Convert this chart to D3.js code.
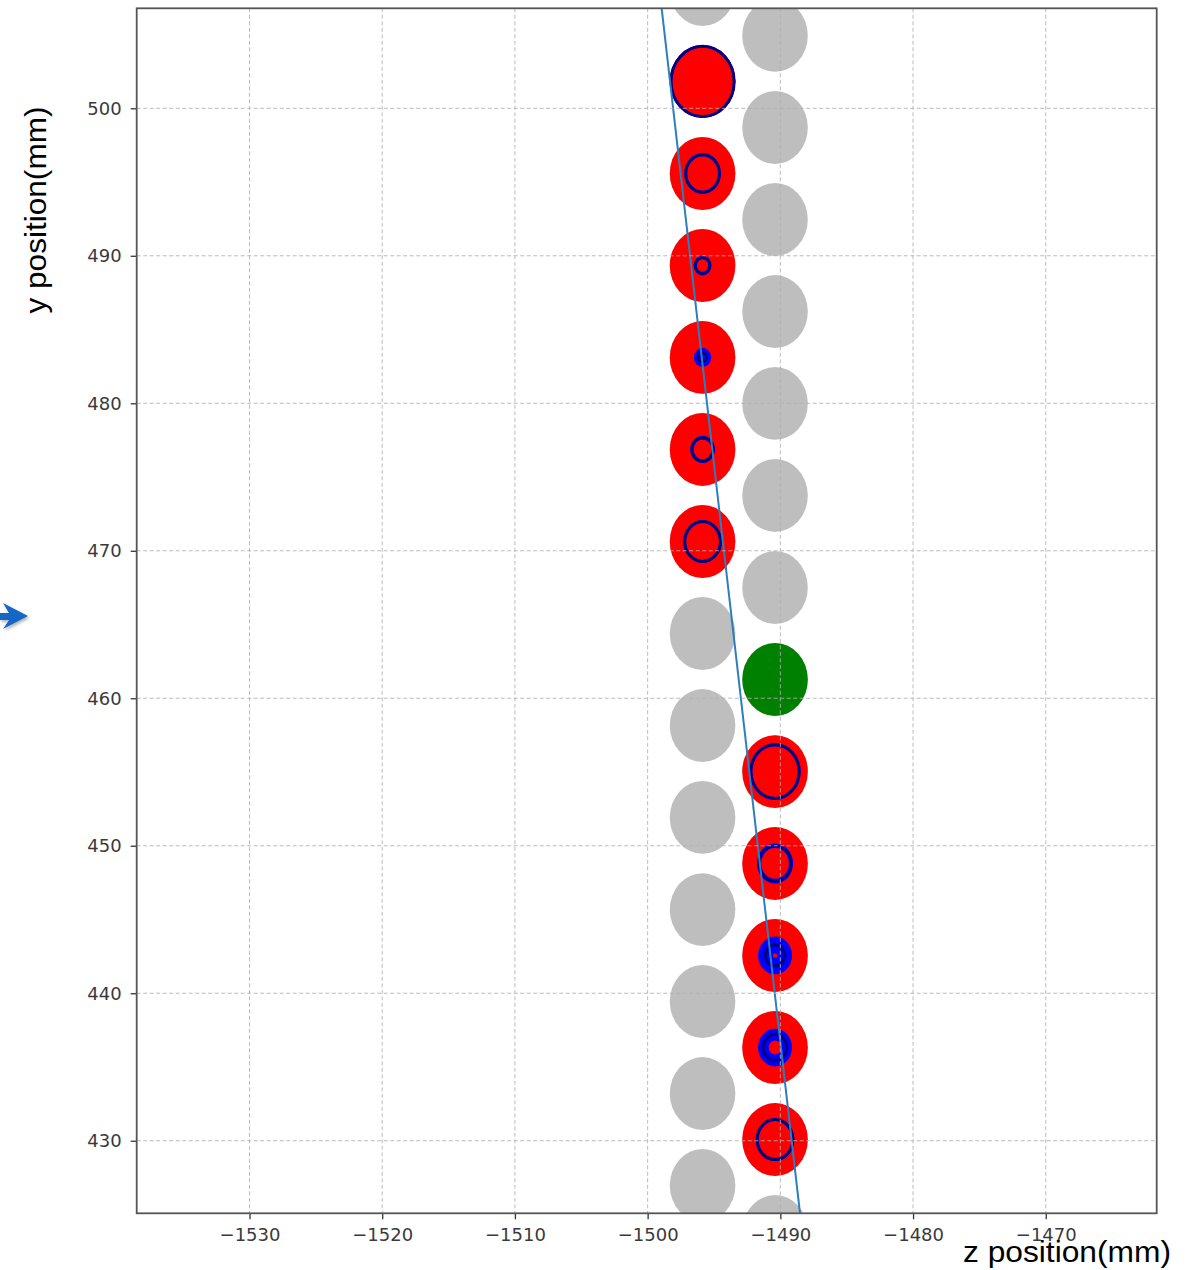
<!DOCTYPE html>
<html>
<head>
<meta charset="utf-8">
<script src="https://cdn.jsdelivr.net/npm/d3@7"></script>
<style>
  html, body { margin: 0; padding: 0; background: #ffffff; }
  svg { display: block; }
</style>
</head>
<body>
<div id="chart"></div>
<script>
// Straw tube hits along a reconstructed track (z vs y, mm)

// z position of the two straw columns
const columnZ = [-1495.86, -1490.40];
// y centres of the straws in each column
const leftColumnY = [508.05, 501.82, 495.58, 489.34, 483.11, 476.87, 470.63,
                     464.39, 458.15, 451.92, 445.67, 439.44, 433.20, 426.97];
const rightColumnY = [504.94, 498.70, 492.46, 486.22, 479.99, 473.75, 467.51,
                      461.27, 455.03, 448.80, 442.56, 436.32, 430.08, 423.85];
const strawRadius = 2.47;

// straws with a hit: column index, y centre, drift radius and its error
const hitColumn = [0, 0, 0, 0, 0, 0, 1, 1, 1, 1, 1];
const hitY = [501.82, 495.58, 489.34, 483.11, 476.87, 470.63,
              455.03, 448.80, 442.56, 436.32, 430.08];
const driftRadius = [2.38, 1.27, 0.55, 0.30, 0.80, 1.35, 1.82, 1.20, 0.72, 0.88, 1.35];
const driftError = [0.08, 0.10, 0.12, 0.35, 0.12, 0.10, 0.10, 0.16, 0.56, 0.40, 0.10];

// hit straw without a drift circle
const seedColumn = [1];
const seedY = [461.27];

// fitted track
const trackY = [512, 420];
const trackZ = [-1499.61, -1487.87];

// axes
const xTicks = [-1530, -1520, -1510, -1500, -1490, -1480, -1470];
const yTicks = [430, 440, 450, 460, 470, 480, 490, 500];
const xLabel = "z position(mm)";
const yLabel = "y position(mm)";

const W = 1187, H = 1270;
const plot = { left: 136.7, top: 8.3, right: 1156.7, bottom: 1213.3 };

const x = d3.scaleLinear().domain([-1538.5, -1461.64]).range([plot.left, plot.right]);
const y = d3.scaleLinear().domain([506.78, 425.08]).range([plot.top, plot.bottom]);

const svg = d3.select("#chart").append("svg")
  .attr("width", W).attr("height", H)
  .attr("viewBox", `0 0 ${W} ${H}`);

const defs = svg.append("defs");
defs.append("clipPath").attr("id", "plot-clip")
  .append("rect")
  .attr("x", plot.left).attr("y", plot.top)
  .attr("width", plot.right - plot.left).attr("height", plot.bottom - plot.top);

const shadow = defs.append("filter").attr("id", "arrow-shadow")
  .attr("x", "-50%").attr("y", "-50%").attr("width", "200%").attr("height", "200%");
shadow.append("feDropShadow")
  .attr("dx", 1.5).attr("dy", 2).attr("stdDeviation", 1.8)
  .attr("flood-color", "#000").attr("flood-opacity", 0.3);

// ellipse outline in pixel space for a circle of data radius r
function ellipsePath(z, yy, r) {
  const cx = x(z), cy = y(yy);
  const rx = Math.abs(x(z + r) - cx), ry = Math.abs(y(yy + r) - cy);
  return `M${cx - rx},${cy}A${rx},${ry} 0 1,0 ${cx + rx},${cy}A${rx},${ry} 0 1,0 ${cx - rx},${cy}Z`;
}

const area = svg.append("g").attr("clip-path", "url(#plot-clip)");

// all straws
const straws = [];
leftColumnY.forEach(v => straws.push({ z: columnZ[0], y: v }));
rightColumnY.forEach(v => straws.push({ z: columnZ[1], y: v }));

area.append("g").selectAll("ellipse").data(straws).join("ellipse")
  .attr("cx", d => x(d.z)).attr("cy", d => y(d.y))
  .attr("rx", d => Math.abs(x(d.z + strawRadius) - x(d.z)))
  .attr("ry", d => Math.abs(y(d.y + strawRadius) - y(d.y)))
  .attr("fill", "#bebebe");

// hit straws
const hits = hitY.map((v, i) => ({
  z: columnZ[hitColumn[i]], y: v, r: driftRadius[i], e: driftError[i]
}));
const seeds = seedY.map((v, i) => ({ z: columnZ[seedColumn[i]], y: v }));

area.append("g").selectAll("ellipse").data(hits).join("ellipse")
  .attr("cx", d => x(d.z)).attr("cy", d => y(d.y))
  .attr("rx", d => Math.abs(x(d.z + strawRadius) - x(d.z)))
  .attr("ry", d => Math.abs(y(d.y + strawRadius) - y(d.y)))
  .attr("fill", "#ff0000");

area.append("g").selectAll("ellipse").data(seeds).join("ellipse")
  .attr("cx", d => x(d.z)).attr("cy", d => y(d.y))
  .attr("rx", d => Math.abs(x(d.z + strawRadius) - x(d.z)))
  .attr("ry", d => Math.abs(y(d.y + strawRadius) - y(d.y)))
  .attr("fill", "#008000");

// drift radius uncertainty band
area.append("g").selectAll("path").data(hits).join("path")
  .attr("d", d => {
    let p = ellipsePath(d.z, d.y, d.r + d.e);
    if (d.r - d.e > 0) p += ellipsePath(d.z, d.y, d.r - d.e);
    return p;
  })
  .attr("fill", "#0000ff")
  .attr("fill-rule", "evenodd");

// drift circle
area.append("g").selectAll("path").data(hits).join("path")
  .attr("d", d => ellipsePath(d.z, d.y, d.r))
  .attr("fill", "none")
  .attr("stroke", "#000080")
  .attr("stroke-width", 3);

// grid
const grid = svg.append("g").attr("stroke", "#b0b0b0").attr("stroke-width", 1)
  .attr("stroke-dasharray", "4,2.5").attr("opacity", 0.85);
grid.selectAll("line.gx").data(xTicks).join("line").attr("class", "gx")
  .attr("x1", d => x(d)).attr("x2", d => x(d))
  .attr("y1", plot.top).attr("y2", plot.bottom);
grid.selectAll("line.gy").data(yTicks).join("line").attr("class", "gy")
  .attr("y1", d => y(d)).attr("y2", d => y(d))
  .attr("x1", plot.left).attr("x2", plot.right);

// track
area.append("path")
  .datum(trackY.map((v, i) => [trackZ[i], v]))
  .attr("d", d3.line().x(d => x(d[0])).y(d => y(d[1])))
  .attr("fill", "none")
  .attr("stroke", "#2b7fc0")
  .attr("stroke-width", 2);

// axes
const fmt = d3.format("d");
const xAxis = svg.append("g")
  .attr("transform", `translate(0,${plot.bottom})`)
  .call(d3.axisBottom(x).tickValues(xTicks).tickFormat(fmt)
    .tickSize(6).tickPadding(9).tickSizeOuter(0));
const yAxis = svg.append("g")
  .attr("transform", `translate(${plot.left},0)`)
  .call(d3.axisLeft(y).tickValues(yTicks).tickFormat(fmt)
    .tickSize(6).tickPadding(9).tickSizeOuter(0));

[xAxis, yAxis].forEach(g => {
  g.select(".domain").remove();
  g.selectAll(".tick line").attr("stroke", "#333").attr("stroke-width", 1.3);
  g.selectAll(".tick text")
    .attr("fill", "#3a3a3a")
    .style("font-family", "'DejaVu Sans', sans-serif")
    .style("font-size", "18px");
});

// frame
svg.append("rect")
  .attr("x", plot.left).attr("y", plot.top)
  .attr("width", plot.right - plot.left).attr("height", plot.bottom - plot.top)
  .attr("fill", "none").attr("stroke", "#555").attr("stroke-width", 1.8);

// axis titles
svg.append("text")
  .attr("x", 963).attr("y", 1262)
  .attr("textLength", 208).attr("lengthAdjust", "spacingAndGlyphs")
  .style("font-family", "'Liberation Sans', Arial, sans-serif")
  .style("font-size", "29px")
  .attr("fill", "#000")
  .text(xLabel);

svg.append("text")
  .attr("transform", "translate(46,210) rotate(-90)")
  .attr("text-anchor", "middle")
  .attr("textLength", 207).attr("lengthAdjust", "spacingAndGlyphs")
  .style("font-family", "'Liberation Sans', Arial, sans-serif")
  .style("font-size", "29px")
  .attr("fill", "#000")
  .text(yLabel);

// pointer arrow at the left margin
svg.append("path")
  .attr("d", "M0,613 L9,613 L3,603 L28,616 L3,629 L9,620 L0,620 Z")
  .attr("fill", "#1366c6")
  .attr("filter", "url(#arrow-shadow)");
</script>
</body>
</html>
